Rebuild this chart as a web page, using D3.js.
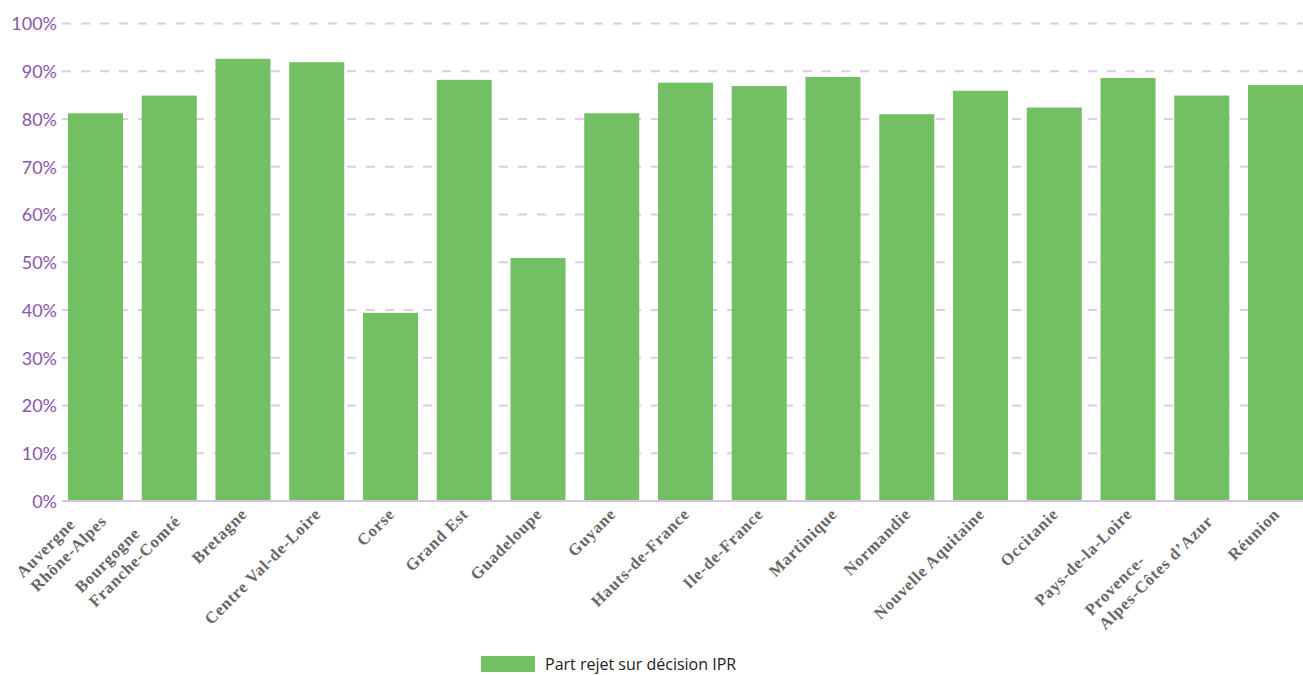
<!DOCTYPE html>
<html><head><meta charset="utf-8">
<script src="https://cdn.jsdelivr.net/npm/d3@7"></script>
<style>html,body{margin:0;padding:0;background:#fff;}svg{display:block;}</style>
</head><body>
<svg id="c" width="1303" height="675"></svg>
<script>
const categories = ["Auvergne\nRhône-Alpes","Bourgogne\nFranche-Comté","Bretagne","Centre Val-de-Loire","Corse","Grand Est","Guadeloupe","Guyane","Hauts-de-France","Ile-de-France","Martinique","Normandie","Nouvelle Aquitaine","Occitanie","Pays-de-la-Loire","Provence-\nAlpes-Côtes d’Azur","Réunion"];
const values = [81.2, 84.9, 92.6, 91.9, 39.4, 88.2, 50.9, 81.2, 87.6, 86.9, 88.8, 81.0, 85.9, 82.4, 88.6, 84.9, 87.1];
const yTicks = [0,10,20,30,40,50,60,70,80,90,100];
const seriesName = "Part rejet sur décision IPR";

const svg = d3.select("#c");
const x = d3.scaleBand().domain(categories).range([58.6, 1312.4]).paddingInner(0.254).paddingOuter(0.127);
const y = d3.scaleLinear().domain([0,100]).range([501, 23.5]);

// gridlines
svg.append("g").selectAll("line").data(yTicks.filter(d=>d>0)).join("line")
  .attr("x1",62).attr("x2",1303).attr("y1",d=>y(d)).attr("y2",d=>y(d))
  .attr("stroke","#dfcbe6").attr("stroke-width",2).attr("stroke-dasharray","9,10");

// bars
svg.append("g").selectAll("rect").data(values).join("rect")
  .attr("x",(d,i)=>x(categories[i])).attr("width",x.bandwidth())
  .attr("y",d=>y(d)).attr("height",d=>y(0)-y(d))
  .attr("fill","#72c063");

// axis line
svg.append("line").attr("x1",62).attr("x2",1303).attr("y1",y(0)).attr("y2",y(0))
  .attr("stroke","#d8c3e0").attr("stroke-width",2);

// y labels
const yAxis = d3.axisLeft(y).tickValues(yTicks).tickFormat(d=>d+"%").tickSize(0).tickPadding(0);
const ya = svg.append("g").attr("transform","translate(57,0)").call(yAxis);
ya.select(".domain").remove();
ya.selectAll("text").attr("font-family","Lato, sans-serif").attr("font-size",18).attr("fill","#8b56a8").attr("dy","0.35em");

// x labels
const xl = svg.append("g");
categories.forEach(c=>{
  const lines = c.split("\n");
  const g = xl.append("g").attr("transform",`translate(${x(c)+x.bandwidth()/2+1},${511}) rotate(-45)`);
  const lh = 20;
  const texts = lines.map((t,i)=>g.append("text").text(t)
      .attr("font-family","'Liberation Serif', serif").attr("font-weight","bold").attr("font-size",16.5)
      .attr("letter-spacing","0.8px")
      .attr("fill","#666").attr("y",(i-(lines.length-1)/2)*lh).attr("dy","0.35em"));
  const maxW = d3.max(texts,t=>t.node().getComputedTextLength());
  texts.forEach(t=>t.attr("x",-maxW));
});

// legend
svg.append("rect").attr("x",481).attr("y",656).attr("width",54).attr("height",16).attr("fill","#72c063");
svg.append("text").attr("x",545).attr("y",670).text(seriesName)
  .attr("font-family","'Open Sans', sans-serif").attr("font-size",16).attr("fill","#222");
</script>
</body></html>
